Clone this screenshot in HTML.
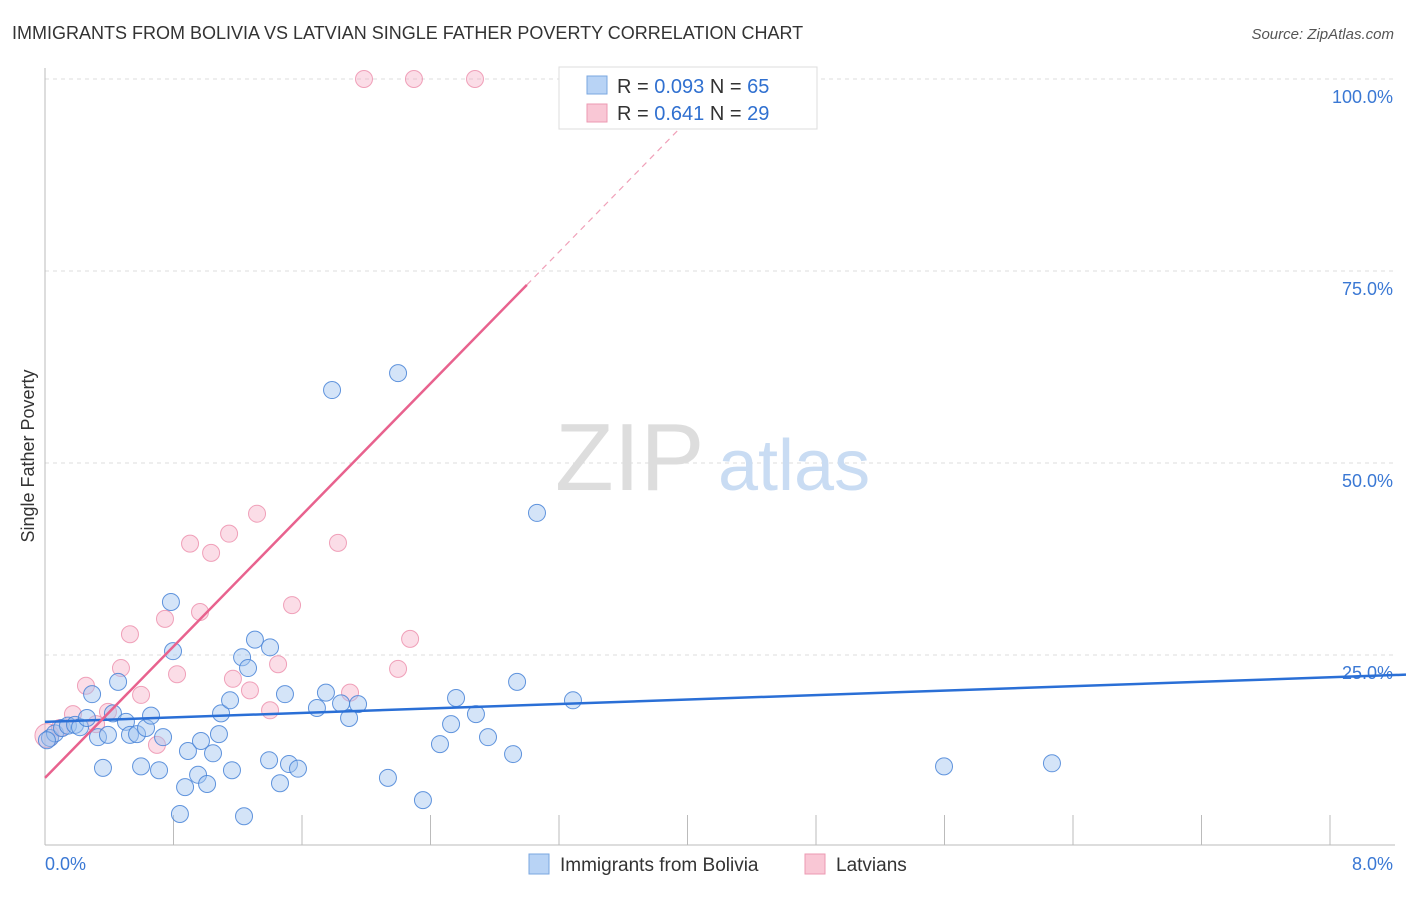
<!DOCTYPE html>
<html><head><meta charset="utf-8"><style>
body{margin:0;background:#fff;font-family:"Liberation Sans",sans-serif;}
svg text{font-family:"Liberation Sans",sans-serif;}
</style></head><body>
<svg width="1406" height="892" viewBox="0 0 1406 892">
<text x="12" y="39" font-size="18" fill="#333">IMMIGRANTS FROM BOLIVIA VS LATVIAN SINGLE FATHER POVERTY CORRELATION CHART</text>
<text x="1394" y="39" font-size="15" fill="#555" font-style="italic" text-anchor="end">Source: ZipAtlas.com</text>
<text x="34" y="456" font-size="18" fill="#333" transform="rotate(-90 34 456)" text-anchor="middle">Single Father Poverty</text>
<g id="grid"></g>
<g><text x="555" y="490" font-size="96" font-family="Liberation Serif" fill="#ddd">ZIP</text><text x="718" y="490" font-size="72" fill="#c9dcf3">atlas</text></g>
<g id="marks"></g>
<g>
<rect x="559" y="67" width="258" height="62" fill="#fff" stroke="#ddd"/>
<rect x="587" y="76" width="20" height="18" fill="#b8d3f5" stroke="#7aa7e0"/>
<rect x="587" y="104" width="20" height="18" fill="#f9c7d5" stroke="#ec9ab2"/>
<text x="617" y="93" font-size="20" fill="#333">R = <tspan fill="#3070d0">0.093</tspan>   N = <tspan fill="#3070d0">65</tspan></text>
<text x="617" y="120" font-size="20" fill="#333">R =  <tspan fill="#3070d0">0.641</tspan>   N = <tspan fill="#3070d0">29</tspan></text>
</g>
<g>
<rect x="529" y="854" width="20" height="20" fill="#b8d3f5" stroke="#7aa7e0"/>
<text x="560" y="871" font-size="19" fill="#333">Immigrants from Bolivia</text>
<rect x="805" y="854" width="20" height="20" fill="#f9c7d5" stroke="#ec9ab2"/>
<text x="836" y="871" font-size="19" fill="#333">Latvians</text>
</g>
</svg>
<script>
const blueX=[0.031,0.062,0.106,0.143,0.187,0.218,0.261,0.293,0.330,0.361,0.392,0.423,0.455,0.504,0.529,0.573,0.598,0.629,0.660,0.710,0.735,0.784,0.797,0.840,0.872,0.890,0.953,0.971,1.009,1.046,1.083,1.096,1.152,1.164,1.227,1.239,1.264,1.307,1.395,1.401,1.463,1.494,1.519,1.575,1.693,1.749,1.787,1.843,1.893,1.949,2.135,2.198,2.353,2.459,2.528,2.559,2.683,2.758,2.914,2.939,3.063,3.287,5.597,6.269,0.012];
const blueY=[14.2,14.8,15.5,15.8,15.9,15.6,16.8,19.9,14.3,10.3,14.6,17.4,21.5,16.3,14.6,14.7,10.5,15.5,17.1,10.0,14.3,31.9,25.5,4.3,7.8,12.5,9.4,13.8,8.2,12.2,14.7,17.4,19.1,10.0,24.7,4.0,23.3,27.0,11.3,26.0,8.3,19.9,10.8,10.2,18.1,20.1,59.5,18.7,16.8,18.6,9.0,61.7,6.1,13.4,16.0,19.4,17.3,14.3,12.1,21.5,43.5,19.1,10.5,10.9,13.9];
const pinkX=[0.012,0.093,0.174,0.255,0.318,0.392,0.473,0.529,0.598,0.697,0.747,0.822,0.903,0.965,1.034,1.146,1.170,1.276,1.320,1.401,1.451,1.538,1.824,1.899,1.986,2.198,2.273,2.297,2.677];
const pinkY=[14.5,15.5,17.3,21.0,16.0,17.6,23.3,27.7,19.8,13.3,29.7,22.5,39.5,30.6,38.3,40.8,21.9,20.4,43.4,17.8,23.8,31.5,39.6,20.1,100,23.2,27.1,100,100];
const yTicks=[25,50,75,100];
const yTickLabels=["25.0%","50.0%","75.0%","100.0%"];
const xTicks=[0,0.8,1.6,2.4,3.2,4.0,4.8,5.6,6.4,7.2,8.0];
const blueTrend=[16.3,22.1];
const pinkTrend=[9.0,21.4];
const NS="http://www.w3.org/2000/svg";
const sx=v=>45+v/8*1285, sy=v=>847-v/25*192;
function mk(t,a,p){const e=document.createElementNS(NS,t);for(const k in a)e.setAttribute(k,a[k]);p.appendChild(e);return e;}
const grid=document.getElementById('grid'), marks=document.getElementById('marks');
yTicks.forEach((v,i)=>{
 const l=mk('line',{x1:45,x2:1395,y1:sy(v),y2:sy(v),stroke:'#ddd','stroke-dasharray':'4,4'},grid);
 
 
 const t=mk('text',{x:1393,y:sy(v)+24,'font-size':18,fill:'#3a78d4','text-anchor':'end'},grid);
 t.textContent=yTickLabels[i];
 
 
});
const ax=mk('line',{x1:45,x2:45,y1:68,y2:845,stroke:'#bbb'},grid);


const bx=mk('line',{x1:45,x2:1395,y1:845,y2:845,stroke:'#bbb'},grid);


xTicks.forEach(v=>{const l=mk('line',{x1:sx(v),x2:sx(v),y1:815,y2:845,stroke:'#bbb'},grid);
 
 });
[[0,'0.0%','start',45],[8,'8.0%','end',1393]].forEach(d=>{const t=mk('text',{x:d[3],y:870,'font-size':18,fill:'#3a78d4','text-anchor':d[2]},grid);t.textContent=d[1];
 
 });
pinkX.forEach((x,i)=>{const c=mk('circle',{cx:sx(x),cy:sy(pinkY[i]),r:i==0?12:8.5,fill:'rgba(246,170,195,0.4)',stroke:'rgba(236,140,170,0.8)','stroke-width':1},marks);
 
 });
blueX.forEach((x,i)=>{const c=mk('circle',{cx:sx(x),cy:sy(blueY[i]),r:8.5,fill:'rgba(160,195,240,0.45)',stroke:'rgba(70,130,215,0.85)','stroke-width':1},marks);
 
 });
const bl=mk('line',{x1:sx(0),y1:sy(blueTrend[0]),x2:1406,y2:sy(blueTrend[0]+(blueTrend[1]-blueTrend[0])*((1406-45)/1285)),stroke:'#2a6fd6','stroke-width':2.5},marks);


const pl=mk('line',{x1:sx(0),y1:sy(pinkTrend[0]),x2:sx(3.0),y2:sy(pinkTrend[0]+pinkTrend[1]*3.0),stroke:'#e8628e','stroke-width':2.5},marks);


const pd=mk('line',{x1:sx(3.0),y1:sy(pinkTrend[0]+pinkTrend[1]*3.0),x2:sx(4.0),y2:sy(pinkTrend[0]+pinkTrend[1]*4.0),stroke:'#f0a0b8','stroke-width':1.2,'stroke-dasharray':'6,5'},marks);


</script>
</body></html>
